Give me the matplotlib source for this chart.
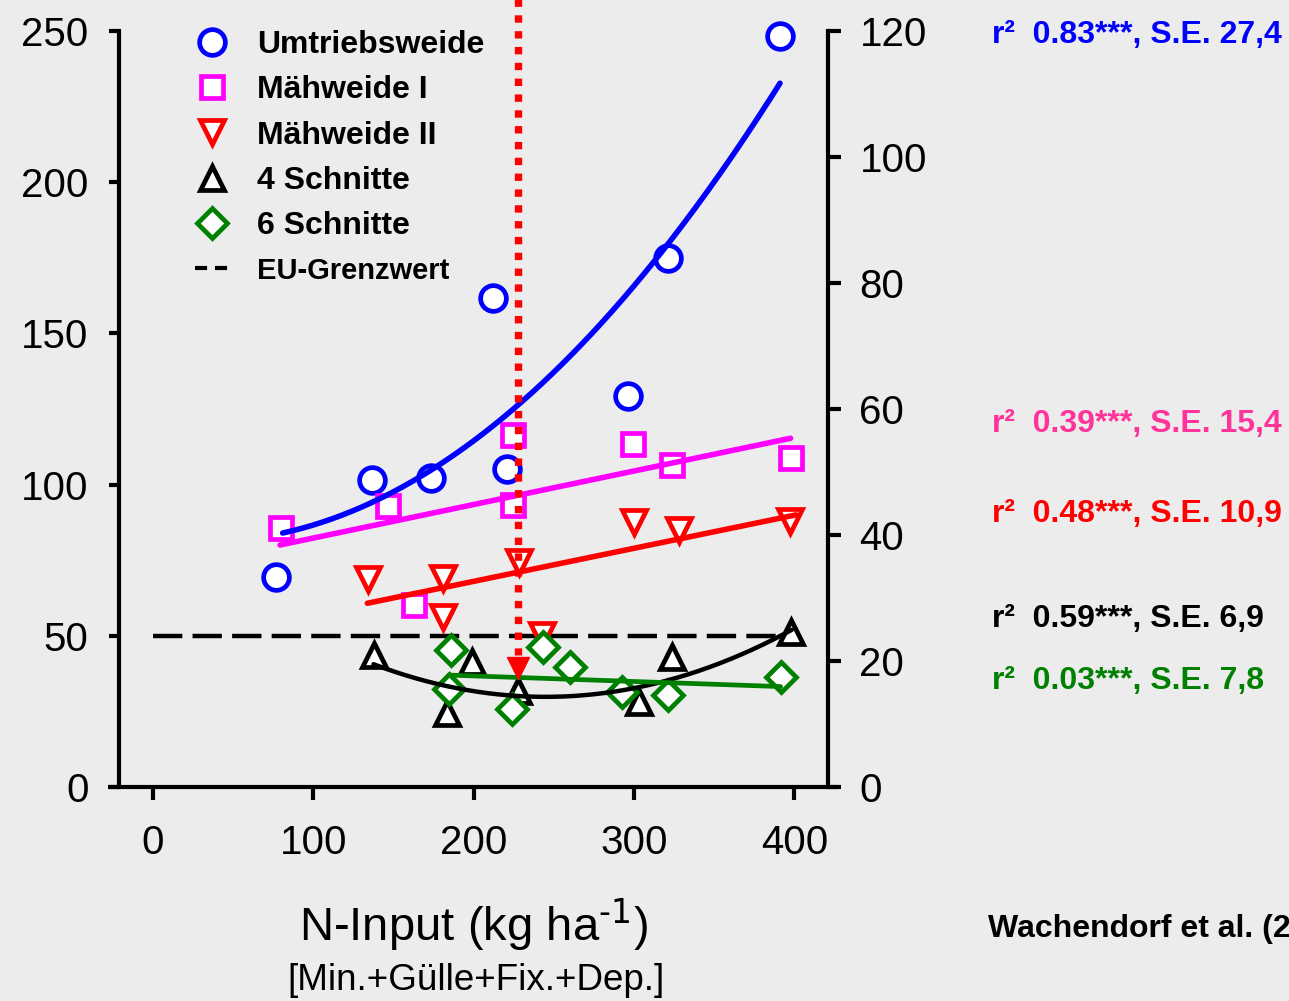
import numpy as np
import matplotlib
matplotlib.use("Agg")
import matplotlib.pyplot as plt
from matplotlib.lines import Line2D

plt.rcParams['font.family'] = ['Liberation Sans', 'DejaVu Sans']
plt.rcParams['mathtext.default'] = 'regular'

# ---------------- data ----------------
x_umtrieb = [77, 137, 173.5, 212, 221, 296, 321, 391]
y_umtrieb = [69.3, 101.5, 102.0, 161.7, 105.1, 129.3, 174.9, 248.3]

x_mw1 = [80, 146.5, 163, 224.4, 224.8, 299.2, 323.5, 397.6]
y_mw1 = [85.7, 93.0, 60.2, 116.4, 93.2, 113.3, 106.4, 108.7]

x_mw2 = [134.5, 180.8, 180.8, 228.5, 242.7, 300.2, 328.2, 397.2]
y_mw2 = [68.8, 69.0, 56.3, 74.3, 50.2, 87.5, 85.0, 88.0]

x_4s = [138.0, 198.9, 183.3, 227.9, 303.3, 323.5, 397.6]
y_4s = [43.6, 41.4, 24.4, 31.8, 28.2, 43.1, 51.3]

x_6s = [186.0, 184.7, 224.2, 243.1, 260.1, 292.3, 321.4, 391.4]
y_6s = [45.3, 32.3, 25.7, 46.4, 39.6, 31.3, 30.4, 36.5]

# regression coefficients (highest power first) and x-range of fitted curves
fit_umtrieb = [0.001171, -0.0730, 82.19]
rng_umtrieb = [81, 391]
fit_mw1 = [0.1109, 71.2]
rng_mw1 = [79.4, 397.6]
fit_mw2 = [0.1094, 46.1]
rng_mw2 = [133.8, 401]
fit_4s = [0.00094, -0.4602, 86.13]
rng_4s = [137.6, 398.3]
fit_6s = [-0.0184, 40.4]
rng_6s = [184.7, 391.4]

eu_limit = 50
eu_range = [0, 400]
n_marker = 227.7
n_marker_top = 261
n_marker_arrow = 39.5

stats_labels = ["r\u00b2  0.83***, S.E. 27,4", "r\u00b2  0.39***, S.E. 15,4",
                "r\u00b2  0.48***, S.E. 10,9", "r\u00b2  0.59***, S.E. 6,9",
                "r\u00b2  0.03***, S.E. 7,8"]
stats_colors = ['#0000ff', '#ff3399', '#ff0000', '#000000', '#008000']
stats_baseline_px = [43.3, 432, 522, 627, 689]

series_names = ["Umtriebsweide", "Mähweide I", "Mähweide II", "4 Schnitte", "6 Schnitte", "EU-Grenzwert"]

xticks = [0, 100, 200, 300, 400]
yticks_left = [0, 50, 100, 150, 200, 250]
yticks_right = [0, 20, 40, 60, 80, 100, 120]

# ---------------- figure ----------------
W, H = 1289, 1001
bg = '#ececec'
fig = plt.figure(figsize=(W / 100, H / 100), dpi=100, facecolor=bg)
ax = fig.add_axes([119 / W, 1 - 787 / H, (827.5 - 119) / W, (787 - 30.8) / H])
ax.set_facecolor(bg)
ax.set_xlim(-21, 420.6)
ax.set_ylim(0, 250)

blue, mag, red, green = '#0000ff', '#ff00ff', '#ff0000', '#008000'
mew = 3.4
ms_o, ms_s, ms_t, ms_d = 18.5, 16, 17, 15

def fitline(coef, rng, color, lw):
    xs = np.linspace(rng[0], rng[1], 200)
    ax.plot(xs, np.polyval(coef, xs), color=color, lw=lw, zorder=4,
            solid_capstyle='round')

# markers
ax.plot(x_umtrieb, y_umtrieb, 'o', ms=ms_o, mfc='white', mec=blue, mew=mew, ls='none', zorder=3, clip_on=False)
ax.plot(x_mw1, y_mw1, 's', ms=ms_s, mfc='white', mec=mag, mew=mew, ls='none', zorder=3, clip_on=False)
ax.plot(x_mw2, y_mw2, 'v', ms=ms_t, mfc='white', mec=red, mew=mew, ls='none', zorder=3, clip_on=False)
ax.plot(x_4s, y_4s, '^', ms=ms_t, mfc='white', mec='black', mew=mew, ls='none', zorder=3, clip_on=False)
ax.plot(x_6s, y_6s, 'D', ms=ms_d, mfc='white', mec=green, mew=mew, ls='none', zorder=3, clip_on=False)

fitline(fit_umtrieb, rng_umtrieb, blue, 4.0)
fitline(fit_mw1, rng_mw1, mag, 4.0)
fitline(fit_mw2, rng_mw2, red, 4.0)
fitline(fit_4s, rng_4s, 'black', 3.2)
fitline(fit_6s, rng_6s, green, 3.4)

# EU limit
ax.plot(eu_range, [eu_limit, eu_limit], color='black', lw=3.2, dashes=(6.6, 2.3),
        dash_capstyle='butt', zorder=2)

# red dotted marker line with arrow
ax.plot([n_marker, n_marker], [n_marker_top, 43.5], color=red, lw=5.3,
        dashes=(1.0, 1.15), dash_capstyle='butt', clip_on=False, zorder=6)
ax.plot([n_marker], [n_marker_arrow], 'v', ms=16.5, color=red, mec=red, zorder=6)

# spines
for s in ['top', 'right']:
    ax.spines[s].set_visible(False)
for s in ['left', 'bottom']:
    ax.spines[s].set_linewidth(3)
ax.spines['bottom'].set_bounds(-28, 427)
ax.spines['bottom'].set_capstyle('butt')

ax.set_xticks(xticks)
ax.set_yticks(yticks_left)
ax.tick_params(axis='both', labelsize=29, width=3, direction='out')
ax.tick_params(axis='y', length=7, pad=15)
ax.tick_params(axis='x', length=9, pad=18)

ax2 = ax.twinx()
ax2.set_ylim(0, 120)
ax2.set_yticks(yticks_right)
for s in ['top', 'left', 'bottom']:
    ax2.spines[s].set_visible(False)
ax2.spines['right'].set_linewidth(3)
ax2.tick_params(axis='y', labelsize=29, width=3, length=9, pad=14, direction='out')

# legend
handles = [
    Line2D([], [], marker='o', ms=ms_o, mfc='white', mec=blue, mew=mew, ls='none'),
    Line2D([], [], marker='s', ms=ms_s, mfc='white', mec=mag, mew=mew, ls='none'),
    Line2D([], [], marker='v', ms=ms_t, mfc='white', mec=red, mew=mew, ls='none'),
    Line2D([], [], marker='^', ms=ms_t, mfc='white', mec='black', mew=mew, ls='none'),
    Line2D([], [], marker='D', ms=ms_d, mfc='white', mec=green, mew=mew, ls='none'),
    Line2D([], [], color='black', lw=3, dashes=(2.9, 1.9), dash_capstyle='butt'),
]
leg = ax.legend(handles, series_names, loc='upper left',
                bbox_to_anchor=(195 / W, 1 - 30 / H), bbox_transform=fig.transFigure,
                frameon=False, borderpad=0, borderaxespad=0, handlelength=1.05,
                handletextpad=0.9, labelspacing=0.48,
                prop={'weight': 'bold', 'size': 23})
leg.get_texts()[5].set_fontsize(21)

# x labels
cx = (119 + 827.5) / 2 / W
fig.text(cx, 1 - 925 / H, 'N-Input (kg ha$^{\\text{-1}}$)', ha='center', va='center', fontsize=34)
fig.text(cx + 3 / W, 1 - 980 / H, '[Min.+Gülle+Fix.+Dep.]', ha='center', va='center', fontsize=26.5)

# statistics
for lab, col, ypx in zip(stats_labels, stats_colors, stats_baseline_px):
    fig.text(992 / W, 1 - ypx / H, lab, color=col, fontsize=23, weight='bold',
             ha='left', va='baseline')
fig.text(988 / W, 1 - 937 / H, 'Wachendorf et al. (2004)', fontsize=23,
         weight='bold', ha='left', va='baseline')

fig.savefig('out.png', dpi=100, facecolor=bg)
